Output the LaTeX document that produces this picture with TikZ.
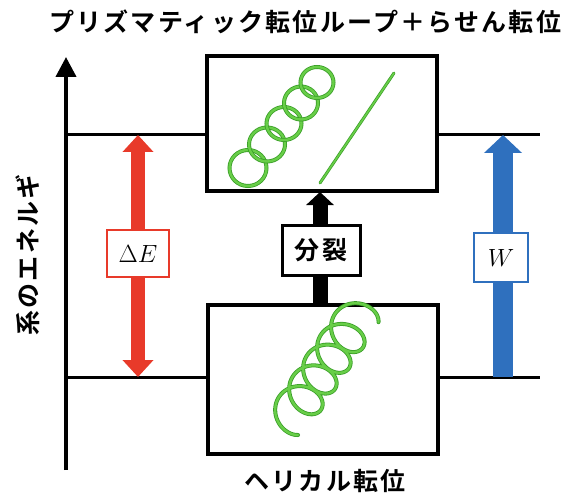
\documentclass[tikz,border=0pt]{standalone}
\usepackage{fontspec}
\usetikzlibrary{arrows.meta}
\newfontfamily\jpb{Noto Sans CJK JP Bold}[LetterSpace=9]
\definecolor{eRed}{RGB}{232,58,42}
\definecolor{wBlue}{RGB}{47,112,190}
\definecolor{gDark}{RGB}{58,158,40}
\definecolor{gLight}{RGB}{104,206,72}
\tikzset{
  level/.style={line width=3pt},
  statebox/.style={draw, line width=4pt, minimum width=230pt, inner sep=0pt},
  tag/.style={draw, fill=white, inner sep=0pt},
  jlabel/.style={font=\jpb\fontsize{25pt}{28pt}\selectfont, inner sep=0pt},
  mathlabel/.style={font=\fontsize{26pt}{30pt}\selectfont},
  tube/.style={draw=gDark, double=gLight, double distance=2.4pt, line width=0.8pt, line cap=round},
  thintube/.style={draw=gDark, double=gLight, double distance=1.6pt, line width=0.7pt, line cap=round}
}
\begin{document}
\begin{tikzpicture}[x=1pt,y=-1pt]
\useasboundingbox (0,0) rectangle (569,494);

% energy axis
\coordinate (axB) at (66,470);
\coordinate (axT) at (66,57);
\draw[line width=4pt, -{Triangle[width=20pt,length=20pt]}] (axB) -- (axT);
\node[jlabel, rotate=90] (ylab) at (27.5,255) {系のエネルギ};

% the two states
\node[statebox, minimum height=135pt] (upper) at (322,123.5) {};
\node[statebox, minimum height=149pt] (lower) at (323,379.5) {};
\node[jlabel] (title) at (305,22) {プリズマティック転位ループ＋らせん転位};
\node[jlabel] (ltitle) at (325,481) {ヘリカル転位};

% energy levels
\coordinate (hiL) at (66,135);
\coordinate (hiR) at (540,135);
\coordinate (loL) at (66,377);
\coordinate (loR) at (540,377);
\draw[level] (hiL) -- (hiL -| upper.west);
\draw[level] (upper.east |- hiR) -- (hiR);
\draw[level] (loL) -- (loL -| lower.west);
\draw[level] (lower.east |- loR) -- (loR);

% energy difference
\coordinate (dEtop) at (138,135);
\coordinate (dEbot) at (138,377);
\draw[eRed, line width=14pt, {Triangle[width=30pt,length=17pt]}-{Triangle[width=30pt,length=17pt]}] (dEtop) -- (dEbot);
\node[tag, draw=eRed, line width=2.5pt, minimum width=62pt, minimum height=47pt, mathlabel] (dE) at (138,253.5) {$\Delta E$};

% work
\coordinate (wbot) at (503,377);
\coordinate (wtop) at (503,135);
\draw[wBlue, line width=20pt, -{Triangle[width=37pt,length=18pt]}] (wbot) -- (wtop);
\node[tag, draw=wBlue, line width=2.5pt, minimum width=54pt, minimum height=49pt, mathlabel] (W) at (501,257.5) {$W$};

% splitting
\coordinate (sbot) at (320,305);
\coordinate (stop) at (320,192);
\draw[line width=15pt, -{Triangle[width=27pt,length=13pt]}] (sbot) -- (stop);
\node[tag, line width=3pt, minimum width=78pt, minimum height=50pt, jlabel] (split) at (321,250) {分裂};

% prismatic loops and screw segment
\draw[tube] (248,168) ellipse [x radius=18.5pt, y radius=18pt];
\draw[tube] (267,144.5) ellipse [x radius=18pt, y radius=17pt];
\draw[tube] (284,123.5) ellipse [x radius=17.5pt, y radius=16.5pt];
\draw[tube] (301,103) ellipse [x radius=17pt, y radius=16.5pt];
\draw[tube] (317,82.5) ellipse [x radius=16.5pt, y radius=15.5pt];
\coordinate (scrA) at (320,183);
\coordinate (scrB) at (394,73);
\draw[thintube] (scrA) -- (scrB);

% helical dislocation
\draw[tube] plot[smooth, samples=360, domain=130:1870, variable=\t]
  ({286.1 + ((\t/360)*25 + 18*cos(\t))*0.559 + 21*sin(\t)*0.829},
   {423.9 - ((\t/360)*25 + 18*cos(\t))*0.829 + 21*sin(\t)*0.559});
\end{tikzpicture}
\end{document}
